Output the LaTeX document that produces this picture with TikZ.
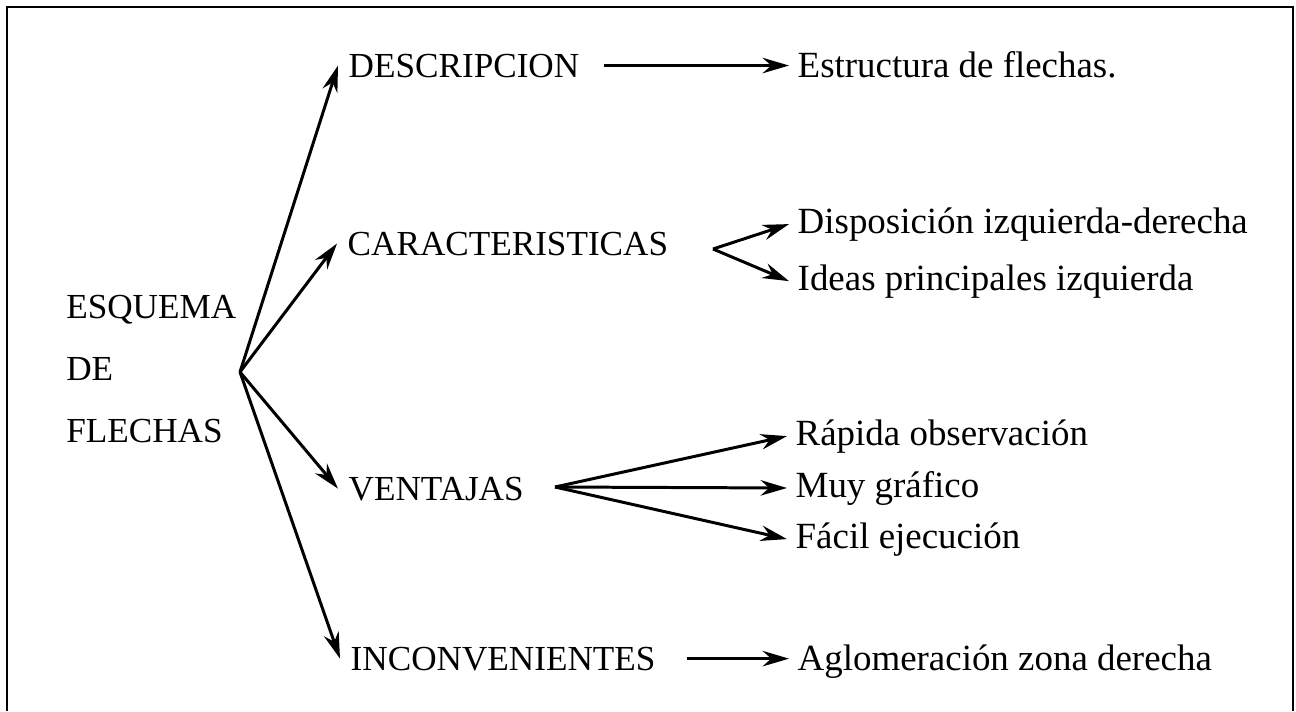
\documentclass[tikz,border=0pt]{standalone}
\usepackage{fontspec}
\setmainfont{Liberation Serif}
\usetikzlibrary{arrows.meta, positioning}

\begin{document}
\begin{tikzpicture}[x=0.01cm, y=-0.01cm,
  flecha/.style={-{Stealth[length=7.5pt, width=4.4pt]}, line width=0.85pt},
  titulo/.style={anchor=base west, inner sep=0.1cm, font=\fontsize{10}{12}\selectfont},
  idea/.style={anchor=base west, inner sep=0.08cm, font=\fontsize{10.5}{12.5}\selectfont}]
\useasboundingbox (0,0) rectangle (1296,711);
% Frame (open at the bottom)
\draw[line width=0.6pt] (7,711) -- (7,7) -- (1293,7) -- (1293,711);
% Main idea and hub
\node[anchor=east, inner sep=0pt, align=left, font=\fontsize{10}{17.5}\selectfont] (raiz) at (237,369) {ESQUEMA\\DE\\FLECHAS};
\coordinate (centro) at (240,372);
% Branches
\node[titulo] (desc) at (338,77) {DESCRIPCION};
\node[titulo] (carac) at (337,255) {CARACTERISTICAS};
\node[titulo] (vent) at (338,500) {VENTAJAS};
\node[titulo] (inconv) at (340,670) {INCONVENIENTES};
% Leaves
\node[idea] (estr) at (789,77) {Estructura de flechas.};
\node[idea] (disp) at (789,233) {Disposición izquierda-derecha};
\node[idea] (ideas) at (789,290) {Ideas principales izquierda};
\node[idea] (rapida) at (787,445) {Rápida observación};
\node[idea] (muy) at (787,497) {Muy gráfico};
\node[idea] (facil) at (787,548) {Fácil ejecución};
\node[idea] (aglo) at (789,670) {Aglomeración zona derecha};
% Fork points
\coordinate (fcarac) at (713,249);
\coordinate (fvent) at (555,487);
% Arrows
\foreach \n in {desc,carac,vent,inconv}
    \draw[flecha] (centro) -- (\n.west);
\draw[flecha, shorten <=4pt] (desc.east) -- (desc.east -| estr.west);
\draw[flecha] (fcarac) -- (disp.west);
\draw[flecha] (fcarac) -- (ideas.west);
\foreach \n in {rapida,muy,facil}
    \draw[flecha] (fvent) -- (\n.west);
\draw[flecha, shorten <=6pt] (inconv.east) -- (inconv.east -| aglo.west);
\end{tikzpicture}
\end{document}
